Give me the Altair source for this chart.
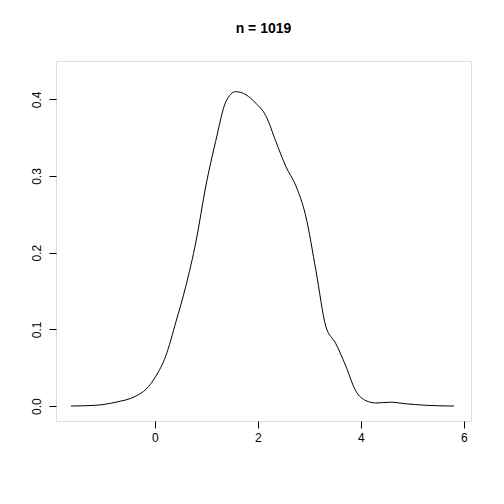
import altair as alt
import pandas as pd

# density estimate
xs = [-1.63, -1.15, -0.76, -0.37, -0.17, 0.02, 0.21, 0.41, 0.60, 0.80, 0.99, 1.18,
      1.38, 1.57, 1.77, 1.96, 2.16, 2.35, 2.54, 2.74, 2.93, 3.13, 3.32, 3.51, 3.71,
      3.90, 4.10, 4.29, 4.58, 4.87, 5.26, 5.81]
ys = [0.0, 0.001, 0.005, 0.013, 0.022, 0.039, 0.065, 0.11, 0.156, 0.215, 0.287, 0.345,
      0.397, 0.41, 0.406, 0.395, 0.378, 0.345, 0.313, 0.287, 0.248, 0.176, 0.104, 0.082,
      0.052, 0.02, 0.007, 0.004, 0.005, 0.003, 0.001, 0.0]

data = pd.DataFrame({"x": xs, "y": ys})

axis_common = dict(
    grid=False, domain=False, tickColor="black", tickSize=7, labelColor="black",
    labelFontSize=12, labelFont="Liberation Sans", title=None,
)

chart = (
    alt.Chart(data, title=alt.Title("n = 1019", fontSize=14, font="Liberation Sans",
                                    fontWeight="bold", offset=25))
    .mark_line(color="black", strokeWidth=1, interpolate="monotone")
    .encode(
        x=alt.X("x:Q", scale=alt.Scale(domain=[-1.92, 6.14], nice=False, zero=False),
                axis=alt.Axis(values=[0, 2, 4, 6], labelPadding=4, **axis_common)),
        y=alt.Y("y:Q", scale=alt.Scale(domain=[-0.0195, 0.45], nice=False),
                axis=alt.Axis(values=[0, 0.1, 0.2, 0.3, 0.4], format=".1f",
                              labelAngle=270, labelAlign="center", labelBaseline="bottom",
                              labelPadding=6, **axis_common)),
    )
    .properties(width=415, height=360, padding={"left": 22, "top": 14, "right": 10, "bottom": 10})
    .configure_view(stroke="black", strokeWidth=1)
    .configure(background="white")
)

chart.save("out.html", embed_options={"renderer": "svg", "actions": False})
